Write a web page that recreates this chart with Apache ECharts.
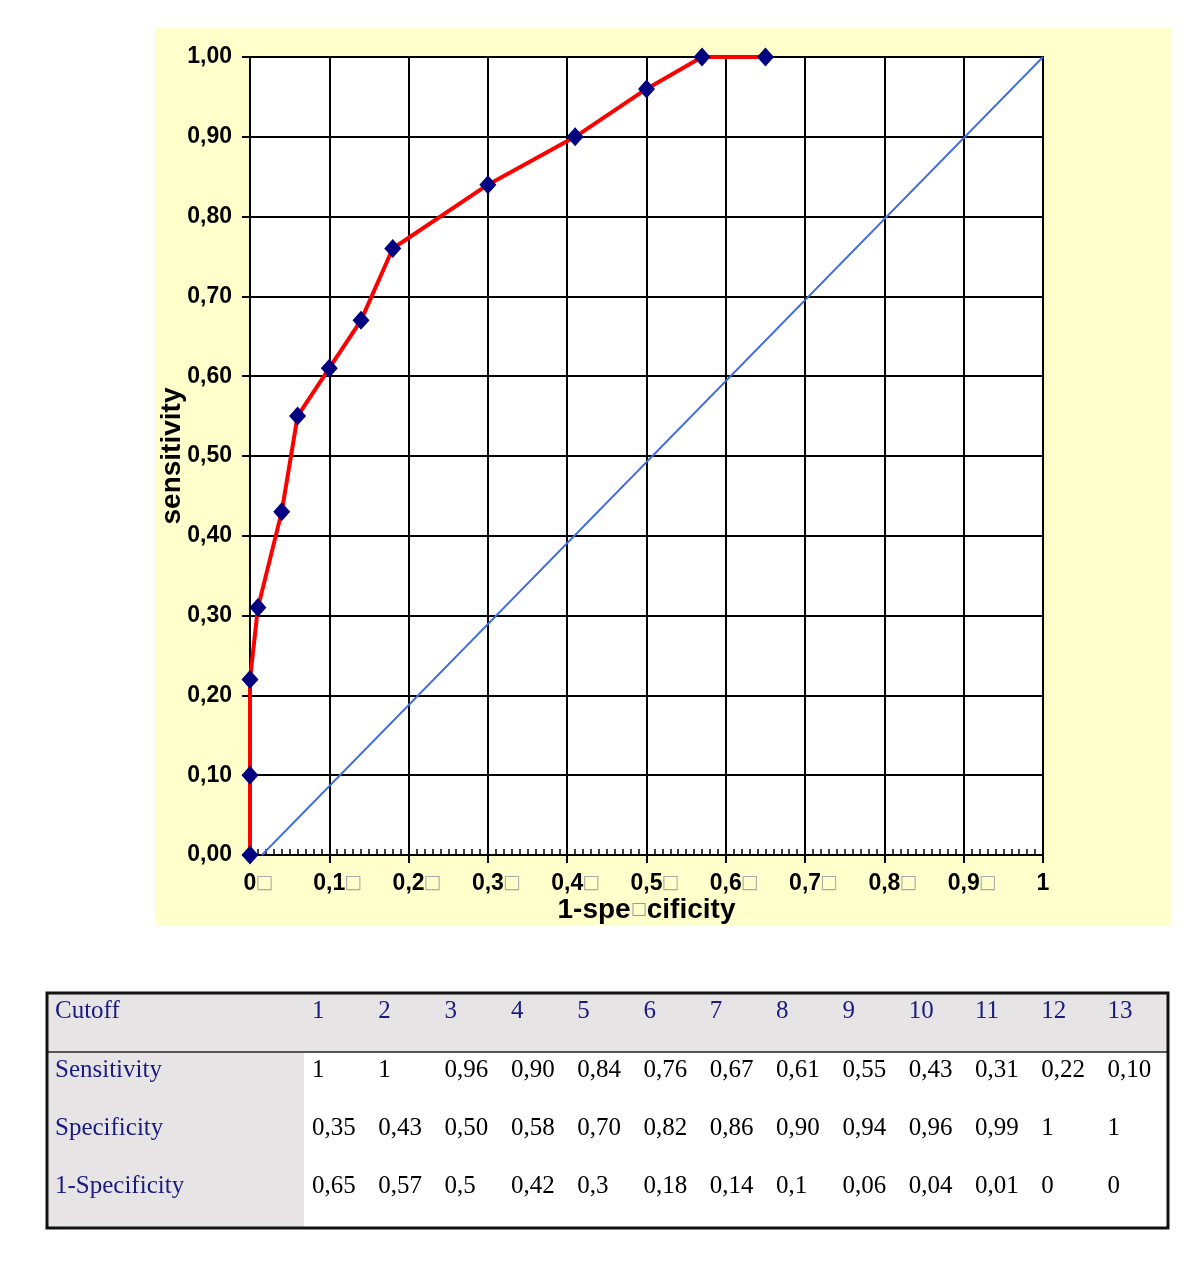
<!DOCTYPE html>
<html>
<head>
<meta charset="utf-8">
<script src="https://cdn.jsdelivr.net/npm/echarts@6/dist/echarts.min.js"></script>
<style>
  html, body { margin: 0; padding: 0; background: #fff; }
  #main { width: 1200px; height: 1263px; }
</style>
</head>
<body>
<div id="main"></div>
<script>
// ROC points as plotted (1-specificity, sensitivity)
const rocX = [0, 0, 0, 0.01, 0.04, 0.06, 0.10, 0.14, 0.18, 0.30, 0.41, 0.50, 0.57, 0.65];
const rocY = [0, 0.10, 0.22, 0.31, 0.43, 0.55, 0.61, 0.67, 0.76, 0.84, 0.90, 0.96, 1.00, 1.00];

// reference diagonal
const diagX = [0.015, 1];
const diagY = [0, 1];

// table below the chart
const rowLabels = ['Sensitivity', 'Specificity', '1-Specificity'];
const cutoffs = ['1', '2', '3', '4', '5', '6', '7', '8', '9', '10', '11', '12', '13'];
const sensitivity = ['1', '1', '0,96', '0,90', '0,84', '0,76', '0,67', '0,61', '0,55', '0,43', '0,31', '0,22', '0,10'];
const specificity = ['0,35', '0,43', '0,50', '0,58', '0,70', '0,82', '0,86', '0,90', '0,94', '0,96', '0,99', '1', '1'];
const oneMinusSpec = ['0,65', '0,57', '0,5', '0,42', '0,3', '0,18', '0,14', '0,1', '0,06', '0,04', '0,01', '0', '0'];

const BOX = '\u25A1';
const navy = '#1a1a80';
const serif = '"Liberation Serif", "Times New Roman", serif';
const sans = '"Liberation Sans", Arial, sans-serif';

function toPairs(xs, ys) {
  let out = [];
  for (var i = 0; i < xs.length; i++) {
    out.push([xs[i], ys[i]]);
  }
  return out;
}

function buildTable() {
  const left = 47, top = 993, right = 1168, bottom = 1228;
  const headH = 59, firstColW = 257;
  const colX0 = 312, colStep = 66.3;
  const rowY = [1011, 1070, 1128, 1186];
  let els = [];
  // backgrounds
  els.push({ type: 'rect', shape: { x: left, y: top, width: right - left, height: bottom - top }, style: { fill: '#fff' } });
  els.push({ type: 'rect', shape: { x: left, y: top, width: right - left, height: headH }, style: { fill: '#e6e4e4' } });
  els.push({ type: 'rect', shape: { x: left, y: top + headH, width: firstColW, height: bottom - top - headH }, style: { fill: '#e6e4e4' } });
  els.push({ type: 'line', shape: { x1: left, y1: top + headH, x2: right, y2: top + headH }, style: { stroke: '#555', lineWidth: 2 } });
  els.push({ type: 'rect', shape: { x: left, y: top, width: right - left, height: bottom - top }, style: { fill: null, stroke: '#111', lineWidth: 3 } });

  const textStyle = (txt, x, y, color) => ({
    type: 'text', x: x, y: y,
    style: { text: txt, fill: color, font: '25px ' + serif, textVerticalAlign: 'middle', textAlign: 'left' }
  });
  els.push(textStyle('Cutoff', 55, rowY[0], navy));
  for (var i = 0; i < cutoffs.length; i++) {
    els.push(textStyle(cutoffs[i], colX0 + i * colStep, rowY[0], navy));
  }
  const rows = [sensitivity, specificity, oneMinusSpec];
  for (var r = 0; r < rows.length; r++) {
    els.push(textStyle(rowLabels[r], 55, rowY[r + 1], navy));
    for (var j = 0; j < rows[r].length; j++) {
      els.push(textStyle(rows[r][j], colX0 + j * colStep, rowY[r + 1], '#000'));
    }
  }
  return els;
}

const chart = echarts.init(document.getElementById('main'));

const option = {
  backgroundColor: '#fff',
  animation: false,
  graphic: [
    { type: 'rect', z: -10, shape: { x: 155, y: 28, width: 1017, height: 898 }, style: { fill: '#ffffcc' } },
    { type: 'group', children: buildTable() }
  ],
  grid: {
    left: 250, top: 57, right: 157, bottom: 408,
    show: true, backgroundColor: '#fff', borderColor: '#000', borderWidth: 2
  },
  xAxis: [
    {
      type: 'value', min: 0, max: 1, interval: 0.1,
      name: '1-spe{b|' + BOX + '}cificity',
      nameLocation: 'middle', nameGap: 41, nameMoveOverlap: false,
      nameTextStyle: {
        fontFamily: sans, fontWeight: 'bold', fontSize: 28, color: '#000',
        rich: { b: { fontSize: 17, color: '#999', fontWeight: 'normal', fontFamily: 'DejaVu Sans', verticalAlign: 'middle' } }
      },
      axisLine: { lineStyle: { color: '#000', width: 2 } },
      axisTick: { show: true, length: 8, lineStyle: { color: '#000', width: 2 } },
      splitLine: { show: true, lineStyle: { color: '#000', width: 2 } },
      axisLabel: {
        margin: 17,
        formatter: function (v) {
          if (v >= 1) return '{c|1}';
          const s = v === 0 ? '0' : v.toFixed(1).replace('.', ',');
          return '{a|' + s + '}{b|' + BOX + '}';
        },
        rich: {
          a: { fontFamily: sans, fontWeight: 'bold', fontSize: 23, color: '#000', padding: [0, 0, 0, 16] },
          b: { fontFamily: 'DejaVu Sans', fontSize: 19, color: '#aaa', width: 16 },
          c: { fontFamily: sans, fontWeight: 'bold', fontSize: 23, color: '#000' }
        }
      }
    },
    {
      // minor tick row along the bottom edge, pointing up into the plot
      type: 'value', min: 0, max: 1, interval: 0.1, position: 'bottom',
      axisLine: { show: false },
      axisTick: { show: false, inside: true },
      axisLabel: { show: false },
      splitLine: { show: false },
      minorTick: { show: true, splitNumber: 10, length: 6, lineStyle: { color: '#000', width: 1.5 } }
    }
  ],
  yAxis: {
    type: 'value', min: 0, max: 1, interval: 0.1,
    name: 'sensitivity', nameLocation: 'middle', nameGap: 64, nameMoveOverlap: false,
    nameTextStyle: { fontFamily: sans, fontWeight: 'bold', fontSize: 28, color: '#000' },
    axisLine: { show: true, lineStyle: { color: '#000', width: 2 } },
    axisTick: { show: true, length: 8, lineStyle: { color: '#000', width: 2 } },
    splitLine: { show: true, lineStyle: { color: '#000', width: 2 } },
    axisLabel: {
      margin: 18, fontFamily: sans, fontWeight: 'bold', fontSize: 23, color: '#000',
      formatter: function (v) { return v.toFixed(2).replace('.', ','); }
    }
  },
  series: [
    {
      type: 'line', name: 'diagonal', data: toPairs(diagX, diagY),
      showSymbol: false, symbol: 'none',
      lineStyle: { color: '#3e6be0', width: 1.8 }, z: 3
    },
    {
      type: 'line', name: 'ROC', data: toPairs(rocX, rocY),
      symbol: 'diamond', symbolSize: [17, 19],
      itemStyle: { color: '#000080' },
      lineStyle: { color: '#ff0000', width: 4 }, z: 4, clip: false
    }
  ]
};

chart.setOption(option);
</script>
</body>
</html>
